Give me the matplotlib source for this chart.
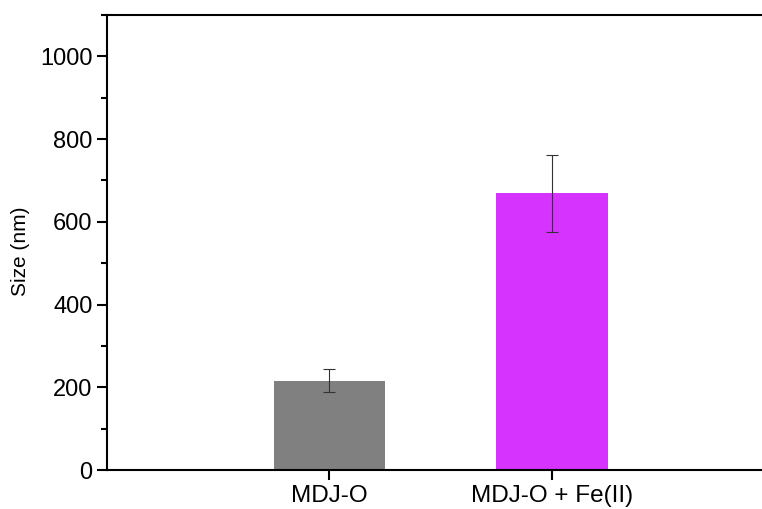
import numpy as np
import matplotlib.pyplot as plt
from matplotlib.ticker import MultipleLocator

categories = ["MDJ-O", "MDJ-O + Fe(II)"]
sizes = [216, 669]
errors = [28, 93]
colors = ["#808080", "#d633ff"]

plt.rcParams['font.family'] = ['Liberation Sans', 'DejaVu Sans']

fig = plt.figure(figsize=(7.62, 5.09), dpi=100)
ax = fig.add_axes([0.1404, 0.0766, 0.876, 0.894])

x = np.arange(1, len(categories) + 1)
ax.bar(x, sizes, width=0.5, color=colors, zorder=1)
ax.errorbar(x, sizes, yerr=errors, fmt='none', ecolor='#333333',
            elinewidth=0.8, capsize=4.5, capthick=0.8, zorder=2)

ax.set_xlim(0, 3)
ax.set_ylim(0, 1100)
ax.set_xticks(x)
ax.set_xticklabels(categories)
ax.yaxis.set_major_locator(MultipleLocator(200))
ax.yaxis.set_minor_locator(MultipleLocator(100))
ax.set_yticks([0, 200, 400, 600, 800, 1000])
ax.set_ylabel("Size (nm)", fontsize=15)
ax.yaxis.set_label_coords(-0.115, 0.48)

ax.spines['right'].set_visible(False)
for s in ['left', 'bottom', 'top']:
    ax.spines[s].set_linewidth(1.5)
ax.tick_params(axis='both', which='major', direction='out', length=7,
               width=1.5, labelsize=17)
ax.tick_params(axis='y', which='minor', direction='out', length=4, width=1.5)
ax.tick_params(axis='x', which='major', labelsize=17.5, pad=4)

fig.savefig("out.png", dpi=100)
